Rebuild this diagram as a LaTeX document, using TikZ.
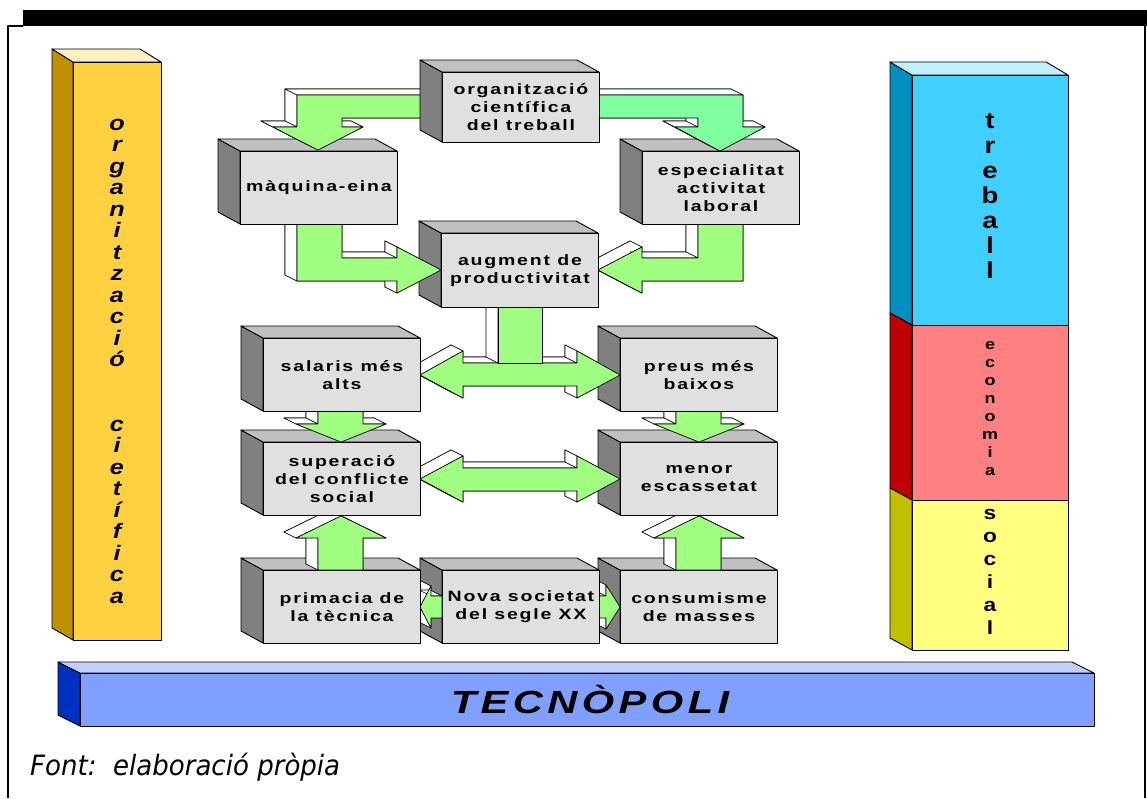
\documentclass[tikz,border=0pt]{standalone}
\usepackage{fontspec}
\setmainfont{Liberation Sans}
\newfontfamily\boxfam[FakeStretch=1.3,LetterSpace=12]{Liberation Sans}
\newfontfamily\widefam[FakeStretch=1.3,LetterSpace=14]{Liberation Sans}
\newfontfamily\colfam[FakeStretch=1.2]{Liberation Sans}
\newfontfamily\notefam[FakeStretch=0.93]{DejaVu Sans}
\usetikzlibrary{calc}
\definecolor{boxgray}{HTML}{E0E0E0}
\definecolor{sidegray}{HTML}{808080}
\definecolor{topgray}{HTML}{C0C0C0}
\definecolor{arrgreen}{HTML}{A0FF80}
\definecolor{arrmint}{HTML}{80FFA0}
\definecolor{orfront}{HTML}{FFD040}
\definecolor{orside}{HTML}{C09000}
\definecolor{ortop}{HTML}{FFF0C0}
\definecolor{blfront}{HTML}{40D0FF}
\definecolor{blside}{HTML}{0090C0}
\definecolor{bltop}{HTML}{C0F0FF}
\definecolor{rdfront}{HTML}{FF8080}
\definecolor{rdside}{HTML}{C00000}
\definecolor{ylfront}{HTML}{FFFF80}
\definecolor{ylside}{HTML}{C0C000}
\definecolor{barfront}{HTML}{80A0FF}
\definecolor{barside}{HTML}{0030C0}
\definecolor{bartop}{HTML}{C0D0FF}
\tikzset{
  boxfront/.style={fill=boxgray, draw=black, line width=0.9pt, inner sep=0pt, align=center,
    font=\boxfam\bfseries\fontsize{15}{18}\selectfont},
  boxside/.style={fill=sidegray, draw=black, line width=0.9pt},
  boxtop/.style={fill=topgray, draw=black, line width=0.9pt},
  arrowside/.style={fill=white, draw=black, line width=0.6pt},
  arrowfront/.style={fill=arrgreen, draw=black, line width=0.6pt},
  solid3d/.style={draw=black, line width=0.9pt},
  colletter/.style={anchor=base, inner sep=0pt},
}
% 3D box: #1 height, #2 name, #3 x, #4 y (front top-left), #5 text
\newcommand\tbox[5][73]{%
  \filldraw[boxside] (#3,#4) -- ++(-22,-12) -- ++(0,#1) -- ++(22,12) -- cycle;
  \filldraw[boxtop] (#3,#4) -- ++(-22,-12) -- ++(157,0) -- ++(22,12) -- cycle;
  \node[boxfront, minimum width=157pt, minimum height=#1pt, anchor=north west] (#2) at (#3,#4) {#5};
}
% 3D block arrow, points clockwise on screen
\newcommand\barrow[2][arrowfront]{%
  \foreach \x/\y [count=\i] in {#2} {%
    \coordinate (P\i) at (\x,\y);
    \coordinate (Q\i) at (\x-12,\y-6);
    \expandafter\xdef\csname ax\i\endcsname{\x}%
    \expandafter\xdef\csname ay\i\endcsname{\y}%
    \xdef\npts{\i}%
  }%
  \gdef\bpath{(Q1)}\gdef\fpath{(P1)}%
  \foreach \i in {2,...,\npts} {\xdef\bpath{\bpath -- (Q\i)}\xdef\fpath{\fpath -- (P\i)}}%
  \edef\tmp{\noexpand\filldraw[arrowside] \bpath -- cycle;}\tmp
  \foreach \pass in {0,1} {%
    \foreach \i [remember=\i as \j (initially \npts)] in {1,...,\npts} {%
      \pgfmathtruncatemacro\vis{(2*(\csname ay\i\endcsname-\csname ay\j\endcsname) < (\csname ax\i\endcsname-\csname ax\j\endcsname)) ? 1 : 0}%
      \ifnum\vis=\pass
        \filldraw[arrowside] (P\j) -- (P\i) -- (Q\i) -- (Q\j) -- cycle;
      \fi
    }%
  }%
  \edef\tmp{\noexpand\filldraw[#1] \fpath -- cycle;}\tmp
}
\begin{document}
\begin{tikzpicture}[x=1pt,y=-1pt,line join=round]
\useasboundingbox (0,0) rectangle (1147,798);
% frame
\fill[black] (23,10) rectangle (1147,26);
\draw[line width=1.2pt] (8,798) -- (8,26) -- (23,26);
\draw[line width=1.2pt] (1145,26) -- (1145,798);

% left column
\filldraw[solid3d, fill=orside] (52,49) -- (73,62) -- (73,640) -- (52,628) -- cycle;
\filldraw[solid3d, fill=ortop] (52,49) -- (140,49) -- (161,62) -- (73,62) -- cycle;
\filldraw[solid3d, fill=orfront] (73,62) rectangle (161,640);
\foreach \ch [count=\k from 0] in {o,r,g,a,n,i,t,z,a,c,i,ó,{},{},c,i,e,t,í,f,i,c,a}
  \node[colletter, font=\colfam\bfseries\itshape\fontsize{21}{24}\selectfont] (lc\k) at (117,130+21.5*\k) {\ch};

% right column
\filldraw[solid3d, fill=blside] (890,62) -- (912,75) -- (912,325) -- (890,313) -- cycle;
\filldraw[solid3d, fill=rdside] (890,313) -- (912,325) -- (912,500) -- (890,488) -- cycle;
\filldraw[solid3d, fill=ylside] (890,488) -- (912,500) -- (912,650) -- (890,638) -- cycle;
\filldraw[solid3d, fill=bltop] (890,62) -- (1046,62) -- (1068,75) -- (912,75) -- cycle;
\filldraw[solid3d, fill=blfront] (912,75) rectangle (1068,325);
\filldraw[solid3d, fill=rdfront] (912,325) rectangle (1068,500);
\filldraw[solid3d, fill=ylfront] (912,500) rectangle (1068,650);
\foreach \ch [count=\k from 0] in {t,r,e,b,a,l,l}
  \node[colletter, font=\colfam\bfseries\fontsize{23}{26}\selectfont] (tr\k) at (990,128+25*\k) {\ch};
\foreach \ch [count=\k from 0] in {e,c,o,n,o,m,i,a}
  \node[colletter, font=\colfam\bfseries\fontsize{15}{18}\selectfont] (ec\k) at (990,349+18*\k) {\ch};
\foreach \ch [count=\k from 0] in {s,o,c,i,a,l}
  \node[colletter, font=\colfam\bfseries\fontsize{19}{22}\selectfont] (so\k) at (990,519+23*\k) {\ch};

% bottom bar
\filldraw[solid3d, fill=barside] (58,662) -- (80,673) -- (80,726) -- (58,715) -- cycle;
\filldraw[solid3d, fill=bartop] (58,662) -- (1072,662) -- (1094,673) -- (80,673) -- cycle;
\filldraw[solid3d, fill=barfront] (80,673) rectangle (1094,726);
\node[font=\widefam\bfseries\itshape\fontsize{32}{36}\selectfont] (tecno) at (590,699.5) {TECNÒPOLI};

% note
\node[anchor=base west, inner sep=0pt, font=\notefam\itshape\fontsize{28}{32}\selectfont] (font) at (30,775) {Font:\ \ elaboració pròpia};

% boxes and arrows, back to front
\tbox{cons}{620}{570}{consumisme\\de masses}
\barrow{598/596, 606/596, 606/585, 620/607, 606/629, 606/618, 598/618}
\barrow{699/516, 744/538, 721/538, 721/570, 676/570, 676/538, 654/538}
\tbox{nova}{442}{570}{Nova societat\\del segle XX}
\barrow{420/607, 431/586, 431/596, 442/596, 442/618, 431/618, 431/628}
\tbox{prim}{263}{570}{primacia de\\la tècnica}
\barrow{341/516, 386/538, 363/538, 363/570, 318/570, 318/538, 296/538}
\tbox{menor}{620}{442}{menor\\escassetat}
\barrow{676/411, 721/411, 721/424, 744/424, 699/442, 654/424, 676/424}
\barrow{420/479, 463/456, 463/468, 577/468, 577/456, 620/479, 577/502, 577/491, 463/491, 463/502}
\tbox{super}{263}{442}{superació\\del conflicte\\social}
\barrow{318/411, 363/411, 363/424, 386/424, 341/442, 296/424, 318/424}
\tbox{preus}{620}{338}{preus més\\baixos}
\barrow{420/375, 463/351, 463/363, 577/363, 577/351, 620/375, 577/398, 577/386, 463/386, 463/398}
\barrow{498/307, 542/307, 542/363, 498/363}
\tbox{sal}{263}{338}{salaris més\\alts}
\barrow{698/224, 743/224, 743/281, 642/281, 642/293, 598/270, 642/247, 642/258, 698/258}
\tbox[74]{aug}{441}{233}{augment de\\productivitat}
\barrow{297/224, 342/224, 342/258, 397/258, 397/247, 441/270, 397/293, 397/281, 297/281}
\tbox{maq}{240}{151}{màquina-eina}
\tbox{esp}{642}{151}{especialitat\\activitat\\laboral}
\barrow{297/95, 460/95, 460/118, 342/118, 342/127, 363/127, 318/150, 273/127, 297/127}
\barrow[arrowfront, fill=arrmint]{598/95, 743/95, 743/127, 765/127, 720/151, 675/127, 698/127, 698/118, 598/118}
\tbox[70]{org}{442}{72}{organització\\científica\\del treball}
\end{tikzpicture}
\end{document}
